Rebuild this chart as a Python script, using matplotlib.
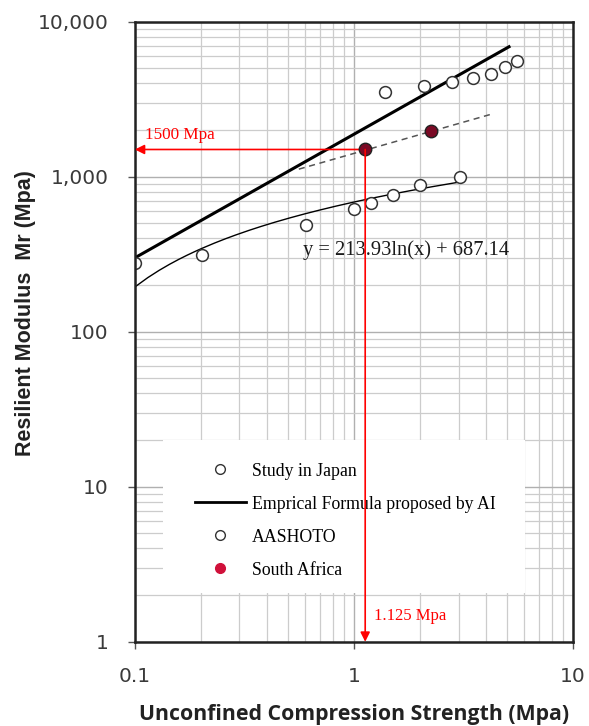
import matplotlib.pyplot as plt
import numpy as np
from matplotlib.lines import Line2D
from matplotlib.patches import Rectangle
from matplotlib.ticker import FixedLocator, FuncFormatter, NullFormatter

# Study in Japan
japan_x = [1.39, 2.09, 2.79, 3.51, 4.21, 4.89, 5.53]
japan_y = [3500, 3830, 4060, 4330, 4620, 5100, 5600]

# AASHOTO
aashto_x = [0.1, 0.203, 0.604, 1.0, 1.2, 1.51, 2.01, 3.05]
aashto_y = [277, 314, 488, 619, 676, 765, 887, 990]

# trendline of the AASHOTO points, as printed on the chart
fit_a, fit_b = 213.93, 687.14
fit_range = [0.1, 3.0]

# empirical formula line, end points
emp_x = [0.1, 5.1]
emp_y = [300, 6900]

# South Africa
sa_x = [1.125, 2.24]
sa_y = [1500, 1980]
sa_trend_x = [0.56, 4.3]
sa_trend_y = [1120, 2550]

serif = 'Liberation Serif'

fig = plt.figure(figsize=(5.89, 7.26), dpi=100)
ax = fig.add_axes([0.229, 0.116, 0.744, 0.854])
ax.set_xscale('log')
ax.set_yscale('log')
ax.set_xlim(0.1, 10)
ax.set_ylim(1, 10000)

ax.grid(True, which='major', color='#b0b0b0', lw=1.0)
ax.grid(True, which='minor', color='#cccccc', lw=0.9)
ax.set_axisbelow(True)

fx = np.linspace(fit_range[0], fit_range[1], 200)
ax.plot(fx, fit_a * np.log(fx) + fit_b, color='black', lw=1.0)
ax.plot(emp_x, emp_y, color='black', lw=2.2)
ax.plot(sa_trend_x, sa_trend_y, color='#555555', lw=1.1, ls=(0, (4, 3)))

ax.plot(japan_x, japan_y, 'o', ms=8.5, mfc='white', mec='#333333', mew=1.1)
ax.plot(aashto_x, aashto_y, 'o', ms=8.5, mfc='white', mec='#333333', mew=1.1)
ax.plot(sa_x, sa_y, 'o', ms=9, mfc='#7a0a25', mec='#222222', mew=1.0, zorder=5)

# red guide arrows
ax.annotate('', xy=(0.1, sa_y[0]), xytext=(sa_x[0], sa_y[0]),
            arrowprops=dict(arrowstyle='-|>', color='red', lw=1.2,
                            mutation_scale=14, shrinkA=0, shrinkB=0))
ax.annotate('', xy=(sa_x[0], 1), xytext=(sa_x[0], sa_y[0]),
            arrowprops=dict(arrowstyle='-|>', color='red', lw=1.2,
                            mutation_scale=14, shrinkA=0, shrinkB=0), zorder=6)
ax.text(0.111, 1850, '1500 Mpa', color='red', family=serif, fontsize=12.3,
        va='center', ha='left')
ax.text(1.24, 1.47, '1.125 Mpa', color='red', family=serif, fontsize=12,
        va='center', ha='left')
ax.text(0.585, 336, 'y = 213.93ln(x) + 687.14', family=serif, fontsize=14.8,
        va='center', ha='left', color='#1a1a1a')

# white area behind the legend, hiding the grid
ax.add_patch(Rectangle((0.064, 0.079), 0.826, 0.247, transform=ax.transAxes,
                       facecolor='white', edgecolor='none', zorder=1.5))

handles = [
    Line2D([], [], ls='none', marker='o', ms=7, mfc='white', mec='#333333'),
    Line2D([], [], color='black', lw=2),
    Line2D([], [], ls='none', marker='o', ms=7, mfc='white', mec='#333333'),
    Line2D([], [], ls='none', marker='o', ms=7, mfc='#d0103a', mec='#d0103a'),
]
labels = ['Study in Japan', 'Emprical Formula proposed by AI', 'AASHOTO', 'South Africa']
leg = ax.legend(handles, labels, loc='upper left', bbox_to_anchor=(0.137, 0.289),
                frameon=False, prop={'family': serif, 'size': 12.8},
                labelspacing=0.9, handlelength=2.85, handletextpad=0.35,
                borderpad=0, borderaxespad=0)
leg.set_zorder(4)

ax.xaxis.set_major_locator(FixedLocator([0.1, 1, 10]))
ax.xaxis.set_major_formatter(FuncFormatter(lambda v, p: f'{v:g}'))
ax.yaxis.set_major_locator(FixedLocator([1, 10, 100, 1000, 10000]))
ax.yaxis.set_major_formatter(FuncFormatter(lambda v, p: f'{v:,.0f}'))
ax.xaxis.set_minor_formatter(NullFormatter())
ax.yaxis.set_minor_formatter(NullFormatter())
ax.tick_params(which='minor', length=0)
ax.tick_params(which='major', length=5, width=1, color='#555555', direction='out',
               labelsize=14.5, labelcolor='#3a3a3a')
ax.tick_params(axis='y', pad=14)
ax.tick_params(axis='x', pad=13)
for lab in ax.get_xticklabels() + ax.get_yticklabels():
    lab.set_family('DejaVu Sans')

for s in ax.spines.values():
    s.set_linewidth(1.8)
    s.set_color('#222222')

ax.set_xlabel('Unconfined Compression Strength (Mpa)', fontsize=15.3,
              fontweight='bold', family='Open Sans', labelpad=13, color='#222222')
ax.set_ylabel('Resilient Modulus  Mr (Mpa)', fontsize=15.5, fontweight='bold',
              family='Liberation Sans', color='#222222')
ax.yaxis.set_label_coords(-0.226, 0.53)

fig.savefig('out.png', dpi=100)
